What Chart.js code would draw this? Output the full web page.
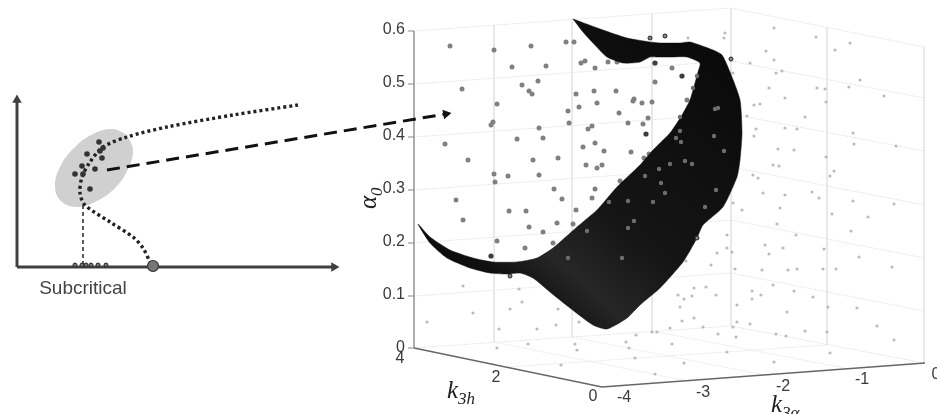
<!DOCTYPE html>
<html>
<head>
<meta charset="utf-8">
<style>
html, body { margin: 0; padding: 0; background: #fff; overflow: hidden; }
canvas { display: block; filter: blur(0.45px); }
</style>
<script src="https://cdn.jsdelivr.net/npm/chart.js@4"></script>
</head>
<body>
<canvas id="figure" width="937" height="414"></canvas>
<script>

// left sketch
var sketchEllipse = [[127,135],[133,150],[128,169],[115,188],[95,202],[76,207],[61,201],[55,187],[60,167],[74,148],[93,134],[113,129]];
var stableBranch = [[298,105],[233,115],[167,127],[127,137],[103,147],[90,162],[82,177],[80,193],[85,205],[110,222],[133,237],[143,248],[150,262]];
var sketchDrop = [[83,205],[83,265]];
var sketchXAxis = [[17,267],[334,267]];
var sketchYAxis = [[17,267],[17,100]];
var sketchDots = [[99,142],[103,148],[100,151],[87,154],[102,158],[82,166],[95,169],[75,174],[83,174],[90,189]];
var sketchAxisDots = [[75,265],[82,265],[86,265],[91,265],[98,265],[106,265]];
var criticalPoint = [[153,266]];
var zoomArrow = [[107,170],[446,114]];

// 3D box: the z axis, then one polyline per z level across the two back walls
var zTicks = [0, 0.1, 0.2, 0.3, 0.4, 0.5, 0.6];
var zTickLabels = ['0', '0.1', '0.2', '0.3', '0.4', '0.5', '0.6'];
var zLeft = [348, 296, 243, 190, 137, 84, 31];
var zBack = [326, 273, 220, 167, 114, 61, 8];
var zRight = [363, 311, 258, 205, 151, 98, 47];
var wallVerticals = [[[494,25],[494,342]], [[572,18],[572,337]], [[652,14],[652,331]], [[731,8],[731,326]], [[827,27],[827,345]], [[924,47],[924,363]]];
var floorLines = [[[494,342],[692,382]], [[572,337],[770,376]], [[652,331],[850,369]], [[827,345],[508,367]]];
var frontEdge = [[414,348],[602,387],[925,363]];
var zAxisLine = [[414,31],[414,348]];

var k3aTickLabels = ['-4', '-3', '-2', '-1', '0'];
var k3aTickPos = [[624,398],[703,393],[783,387],[862,380],[936,375]];
var k3hTickLabels = ['4', '2', '0'];
var k3hTickPos = [[400,359],[496,378],[593,397]];

var surface = [[573,19],[603,30],[627,38],[650,42],[660,43],[680,43],[690,42],[713,50],[722,55],[730,72],[740,100],[742,133],[740,160],[737,177],[723,207],[703,225],[697,238],[683,262],[660,288],[640,305],[627,318],[607,329],[593,325],[570,308],[550,292],[533,278],[520,273],[507,274],[490,273],[470,268],[447,258],[430,243],[418,224],[430,237],[450,250],[473,258],[493,262],[517,262],[537,258],[553,248],[577,227],[597,210],[617,187],[640,165],[653,150],[670,133],[682,115],[690,100],[695,83],[698,72],[700,63],[687,57],[670,57],[657,57],[650,57],[640,62],[623,63],[607,57],[593,43],[583,32],[573,19]];

// samples
var wallDots = [[450,46],[494,50],[531,46],[566,42],[574,42],[512,67],[546,66],[581,63],[585,61],[595,68],[608,62],[617,62],[538,81],[462,89],[522,85],[529,91],[532,94],[576,94],[594,91],[616,91],[634,99],[633,101],[642,103],[497,104],[597,103],[579,107],[568,111],[619,113],[569,123],[628,123],[643,124],[648,118],[493,122],[491,125],[539,128],[588,129],[592,126],[517,139],[543,138],[445,144],[583,147],[595,143],[604,151],[631,152],[644,158],[468,160],[533,160],[558,158],[586,165],[597,168],[602,165],[494,174],[508,176],[539,175],[495,182],[554,189],[595,189],[456,200],[562,199],[592,198],[620,181],[509,211],[526,211],[576,210],[463,220],[529,227],[543,232],[557,223],[573,224],[497,241],[553,243],[525,248],[652,102],[655,82],[672,68],[687,100],[649,154]];
var darkDots = [[655,63],[682,76],[646,134],[491,256]];
var ringDots = [[650,38],[665,36],[731,59],[510,276],[697,238]];
var surfaceDots = [[680,117],[680,131],[676,138],[681,142],[714,136],[724,151],[718,108],[715,109],[670,164],[685,161],[692,164],[659,169],[645,176],[661,183],[665,193],[653,202],[716,190],[705,207],[587,231],[568,258],[622,258],[628,228],[634,221],[628,201],[609,202],[697,76],[693,88]];
var paleDots = [[774,28],[816,37],[850,43],[835,50],[766,51],[774,60],[750,63],[782,71],[776,73],[733,73],[860,80],[769,88],[817,88],[825,89],[849,87],[884,96],[785,98],[826,102],[754,105],[760,104],[747,116],[805,117],[756,129],[785,128],[797,129],[853,133],[754,136],[854,144],[896,146],[778,149],[794,150],[826,157],[773,165],[779,166],[834,171],[830,176],[753,175],[758,178],[763,193],[785,195],[812,192],[819,198],[733,203],[853,201],[894,204],[780,208],[725,33],[724,38],[688,38],[742,210],[832,214],[868,217],[777,224],[851,231],[796,235],[727,235],[765,245],[783,248],[824,249],[727,248],[732,252],[717,253],[769,254],[859,257],[686,261],[711,265],[892,267],[735,269],[762,270],[788,270],[797,269],[823,269],[836,269],[706,287],[694,288],[773,285],[794,291],[752,291],[678,295],[692,296],[716,295],[761,295],[752,299],[684,299],[813,297],[737,305],[680,307],[787,312],[828,307],[857,308],[694,318],[682,321],[737,322],[750,324],[877,326],[670,328],[733,327],[703,327],[805,331],[827,332],[652,332],[657,332],[718,334],[776,334],[786,336],[736,337],[894,340],[672,344],[727,352],[830,353],[774,362],[684,363],[655,374],[463,286],[519,289],[522,302],[473,313],[427,322],[510,309],[558,309],[499,329],[537,329],[556,325],[579,322],[497,348],[528,344],[575,344],[577,350],[561,365],[626,342],[636,335],[629,348],[635,358]];

function toXY(list) {
    return list.map(function (p) { return { x: p[0], y: p[1] }; });
}

function lineSet(list, color, width, dash, extra) {
    return Object.assign({
        data: toXY(list),
        showLine: true,
        borderColor: color,
        borderWidth: width,
        borderDash: dash || [],
        pointRadius: 0,
        fill: false
    }, extra || {});
}

function dotSet(list, fill, radius, border, borderWidth) {
    return {
        data: toXY(list),
        showLine: false,
        backgroundColor: fill,
        borderColor: border || fill,
        borderWidth: borderWidth || 0,
        pointRadius: radius
    };
}

function surfaceFill(context) {
    var g = context.chart.ctx.createLinearGradient(740, 40, 480, 340);
    g.addColorStop(0, '#090909');
    g.addColorStop(0.55, '#151515');
    g.addColorStop(0.72, '#262626');
    g.addColorStop(0.85, '#101010');
    g.addColorStop(1, '#060606');
    return g;
}

var datasets = [];

// box
zLeft.forEach(function (y, i) {
    datasets.push(lineSet([[414, y], [731, zBack[i]], [924, zRight[i]]], '#dcdcdc', 1, [1, 1]));
});
wallVerticals.forEach(function (seg) { datasets.push(lineSet(seg, '#e6e6e6', 1)); });
floorLines.forEach(function (seg) { datasets.push(lineSet(seg, '#e0e0e0', 1, [1, 1])); });
datasets.push(lineSet(zAxisLine, '#777777', 1.2));
zLeft.forEach(function (y) { datasets.push(lineSet([[408, y], [414, y]], '#888888', 1)); });
datasets.push(lineSet(frontEdge, '#666666', 1.4));

// samples behind the surface
datasets.push(dotSet(paleDots, '#bcbcbc', 1.6));
datasets.push(dotSet(wallDots, '#808080', 2.5));

// surface
datasets.push(lineSet(surface, '#0a0a0a', 0.5, [], { fill: 'shape', backgroundColor: surfaceFill, tension: 0.2 }));

// samples on top of it
datasets.push(dotSet(surfaceDots, '#6e6e6e', 2.2));
datasets.push(dotSet(darkDots, '#3c3c3c', 2.6));
datasets.push(dotSet(ringDots, '#8a8a8a', 2, '#222222', 1));

// left sketch
datasets.push(lineSet(sketchEllipse.concat([sketchEllipse[0]]), '#d0d0d0', 0, [], { fill: 'shape', backgroundColor: '#d0d0d0', tension: 0.4 }));
datasets.push(lineSet(sketchDrop, '#333333', 1.6, [4, 3]));
datasets.push(lineSet(stableBranch, '#222222', 3.4, [3, 3], { tension: 0.3 }));
datasets.push(lineSet(sketchXAxis, '#404040', 3));
datasets.push(lineSet(sketchYAxis, '#404040', 3));
datasets.push({ data: toXY([sketchXAxis[1]]), backgroundColor: '#404040', borderWidth: 0, pointStyle: 'triangle', pointRadius: 5.5, rotation: 90 });
datasets.push({ data: toXY([sketchYAxis[1]]), backgroundColor: '#404040', borderWidth: 0, pointStyle: 'triangle', pointRadius: 5.5, rotation: 0 });
datasets.push(dotSet(sketchDots, '#333333', 2.8));
datasets.push(dotSet(sketchAxisDots, '#777777', 2, '#222222', 1));
datasets.push(dotSet(criticalPoint, '#777777', 5.5, '#333333', 1.2));
datasets.push(lineSet(zoomArrow, '#111111', 3, [13, 7]));
datasets.push({ data: toXY([zoomArrow[1]]), backgroundColor: '#111111', borderWidth: 0, pointStyle: 'triangle', pointRadius: 5.5, rotation: 80 });

// first dataset has to end up at the back
datasets.forEach(function (d, i) { d.order = datasets.length - i; });

function drawMath(ctx, main, sub, size) {
    ctx.textAlign = 'left';
    ctx.textBaseline = 'alphabetic';
    ctx.font = 'italic ' + size + 'px "Liberation Serif"';
    var w = ctx.measureText(main).width;
    ctx.fillText(main, 0, 0);
    ctx.font = 'italic ' + Math.round(size * 0.68) + 'px "Liberation Serif"';
    ctx.fillText(sub, w, size * 0.22);
}

var labelsPlugin = {
    id: 'figureLabels',
    afterDatasetsDraw: function (chart) {
        var ctx = chart.ctx;
        var px = chart.scales.x, py = chart.scales.y;
        var X = function (v) { return px.getPixelForValue(v); };
        var Y = function (v) { return py.getPixelForValue(v); };
        ctx.save();
        ctx.fillStyle = '#3a3a3a';
        ctx.textBaseline = 'middle';

        ctx.font = '16px "Liberation Sans"';
        ctx.textAlign = 'right';
        zTickLabels.forEach(function (t, i) {
            if (zTicks[i] === 0) {
                ctx.fillText(t, X(405), Y(348));
            } else {
                ctx.fillText(t, X(405), Y(zLeft[i] - 1));
            }
        });
        ctx.textAlign = 'center';
        k3hTickLabels.forEach(function (t, i) {
            ctx.fillText(t, X(k3hTickPos[i][0]), Y(k3hTickPos[i][1]));
        });
        k3aTickLabels.forEach(function (t, i) {
            ctx.fillText(t, X(k3aTickPos[i][0]), Y(k3aTickPos[i][1]));
        });

        ctx.fillStyle = '#444444';
        ctx.font = '19px "Liberation Sans"';
        ctx.fillText('Subcritical', X(83), Y(289));

        ctx.fillStyle = '#222222';
        ctx.save();
        ctx.translate(X(447), Y(398));
        drawMath(ctx, 'k', '3h', 25);
        ctx.restore();
        ctx.save();
        ctx.translate(X(771), Y(412));
        drawMath(ctx, 'k', '3\u03b1', 25);
        ctx.restore();
        ctx.save();
        ctx.translate(X(376), Y(209));
        ctx.rotate(-Math.PI / 2);
        drawMath(ctx, '\u03b1', '0', 25);
        ctx.restore();
        ctx.restore();
    }
};

const figureChart = new Chart(document.getElementById('figure'), {
    type: 'scatter',
    data: { datasets: datasets },
    options: {
        responsive: false,
        animation: false,
        layout: { padding: 0, autoPadding: false },
        plugins: {
            legend: { display: false },
            tooltip: { enabled: false },
            title: { display: false }
        },
        scales: {
            x: { type: 'linear', min: 0, max: 937, display: false },
            y: { type: 'linear', min: 0, max: 414, reverse: true, display: false }
        }
    },
    plugins: [labelsPlugin]
});
</script>
</body>
</html>
